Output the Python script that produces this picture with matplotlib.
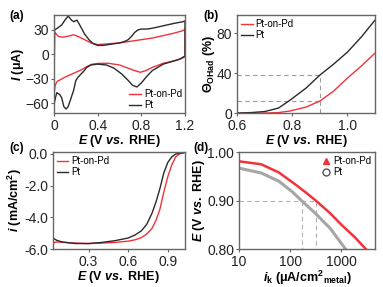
import numpy as np
import matplotlib
matplotlib.use("Agg")
import matplotlib.pyplot as plt
from matplotlib.lines import Line2D
from matplotlib.ticker import FixedLocator, FixedFormatter, NullLocator

plt.rcParams["font.family"] = ["Liberation Sans", "DejaVu Sans"]
plt.rcParams["mathtext.fontset"] = "custom"
plt.rcParams["mathtext.rm"] = "Liberation Sans:bold"
plt.rcParams["mathtext.it"] = "Liberation Sans:bold:italic"
plt.rcParams["mathtext.bf"] = "Liberation Sans:bold"

RED = "#f2323a"
BLACK = "#2a2a2a"
GRAY = "#a6a6a6"
SPINE = "#666666"

# ---------------- (a) cyclic voltammograms ----------------
cv_pt_E = [0, 0.005, 0.03, 0.07, 0.10, 0.13, 0.16, 0.18, 0.21, 0.24, 0.28, 0.32, 0.36, 0.40,
           0.45, 0.50, 0.55, 0.60, 0.65, 0.68, 0.71, 0.74, 0.77, 0.80, 0.85, 0.90, 1.00, 1.10,
           1.18, 1.20,
           1.20, 1.15, 1.10, 1.00, 0.90, 0.85, 0.80, 0.76, 0.72, 0.68, 0.62, 0.55, 0.48, 0.40,
           0.34, 0.30, 0.27, 0.22, 0.20, 0.18, 0.15, 0.13, 0.11, 0.09, 0.07, 0.05, 0.025,
           0.01, 0]
cv_pt_I = [-60, 30, 32, 36, 42, 47, 42, 40, 42, 35, 25, 18, 13, 11,
           11, 12, 13, 14, 16, 18, 22, 27, 30, 31, 31, 32, 35, 38,
           40, 41,
           -2, -6, -8, -12, -20, -27, -35, -40, -38, -32, -24, -17, -13, -12,
           -13, -16, -21, -28, -32, -44, -56, -64, -67, -64, -53, -49, -47,
           -55, -62]

cv_pd_E = [0, 0.005, 0.02, 0.04, 0.08, 0.12, 0.18, 0.22, 0.28, 0.34, 0.40, 0.50, 0.60, 0.70,
           0.80, 0.90, 1.00, 1.10, 1.18, 1.20,
           1.20, 1.17, 1.10, 1.00, 0.90, 0.84, 0.79, 0.74, 0.68, 0.60, 0.50, 0.42, 0.35,
           0.30, 0.25, 0.20, 0.15, 0.10, 0.06, 0.03, 0.01, 0]
cv_pd_I = [-50, 27, 25, 22, 21, 22, 24, 22, 18, 14, 12, 13, 14, 16,
           18, 20, 23, 26, 29, 31,
           -3, -5, -8, -11, -16, -20, -22, -20, -17, -13, -11, -11, -12,
           -15, -19, -22, -25, -28, -31, -33, -38, -50]

# ---------------- (b) OHad coverage ----------------
cov_E = [0.60, 0.65, 0.70, 0.75, 0.79, 0.85, 0.90, 0.95, 1.00, 1.05, 1.10]
cov_pt = [0, 0.5, 1.5, 5, 12.5, 25, 38, 49, 61, 76, 93]
cov_pd = [0, 0, 0, 0.5, 2, 6, 12, 22, 35, 47, 60]

# ---------------- (c) ORR polarization ----------------
lsv_pt_E = [0.03, 0.06, 0.10, 0.20, 0.30, 0.40, 0.50, 0.60, 0.65, 0.70, 0.74, 0.78, 0.81,
            0.84, 0.87, 0.90, 0.93, 0.96, 0.99, 1.02]
lsv_pt_i = [-5.3, -5.45, -5.55, -5.65, -5.65, -5.58, -5.47, -5.3, -5.12, -4.85, -4.45,
            -3.75, -3.05, -2.2, -1.2, -0.55, -0.2, -0.02, 0.03, 0.06]
lsv_pd_E = [0.03, 0.06, 0.10, 0.20, 0.30, 0.40, 0.50, 0.60, 0.65, 0.70, 0.74, 0.78, 0.81,
            0.84, 0.87, 0.90, 0.93, 0.96, 0.99, 1.02]
lsv_pd_i = [-5.6, -5.55, -5.57, -5.62, -5.65, -5.62, -5.58, -5.5, -5.42, -5.28, -5.05,
            -4.7, -4.2, -3.5, -2.4, -1.45, -0.7, -0.2, 0.0, 0.05]

# ---------------- (d) Tafel plot ----------------
tafel_pd_ik = [10, 27, 60, 131, 200, 316, 600, 1000, 1800, 3000]
tafel_pd_E = [0.981, 0.975, 0.958, 0.932, 0.917, 0.900, 0.874, 0.850, 0.825, 0.800]
tafel_pt_ik = [10, 27, 60, 110, 166, 300, 600, 900, 1200]
tafel_pt_E = [0.967, 0.957, 0.940, 0.918, 0.900, 0.875, 0.843, 0.818, 0.800]

legend_names = ["Pt-on-Pd", "Pt"]


def style_axes(ax):
    for s in ax.spines.values():
        s.set_color(SPINE)
        s.set_linewidth(1.0)
    ax.tick_params(direction="out", length=2.5, width=0.8, color=SPINE,
                   labelsize=10, pad=1.0, colors="#222222")
    ax.tick_params(axis="x", pad=1.5)


fig = plt.figure(figsize=(3.83, 2.87), dpi=100)

xl = r"$E$ (V $vs.$ RHE)"
lab_kw = dict(fontsize=9, fontweight="bold", labelpad=0)
leg_kw = dict(fontsize=7, frameon=False, handlelength=1.2, handletextpad=0.3,
              borderpad=0.1, labelspacing=0.1)

# (a)
ax = fig.add_axes([0.141, 0.606, 0.342, 0.341])
ax.plot(cv_pd_E, cv_pd_I, color=RED, lw=1.0, label=legend_names[0])
ax.plot(cv_pt_E, cv_pt_I, color=BLACK, lw=1.0, label=legend_names[1])
ax.set_xlim(0, 1.2)
ax.set_ylim(-72, 48)
ax.set_xticks([0, 0.4, 0.8, 1.2])
ax.set_xticklabels(["0", "0.4", "0.8", "1.2"])
ax.set_yticks([30, 0, -30, -60])
ax.set_xlabel(xl, **lab_kw)
ax.set_ylabel(r"$I$ ($\mathrm{\mu}$A)", **lab_kw)
style_axes(ax)
ax.legend(loc="lower right", borderaxespad=0.2, **leg_kw)
fig.text(0.025, 0.935, "(a)", fontsize=8.5, fontweight="bold")

# (b)
ax = fig.add_axes([0.619, 0.606, 0.360, 0.341])
ax.plot([0.6, 0.9, 0.9], [38, 38, 0], ls=(0, (4, 3)), color="#999999", lw=0.8)
ax.plot([0.6, 0.9], [12, 12], ls=(0, (4, 3)), color="#999999", lw=0.8)
ax.plot(cov_E, cov_pd, color=RED, lw=1.0, label=legend_names[0])
ax.plot(cov_E, cov_pt, color=BLACK, lw=1.0, label=legend_names[1])
ax.set_xlim(0.6, 1.1)
ax.set_ylim(0, 98)
ax.set_xticks([0.6, 0.8, 1.0])
ax.set_yticks([0, 40, 80])
ax.set_xlabel(xl, **lab_kw)
ax.set_ylabel(r"$\mathit{Θ}_{\mathrm{OHad}}$ (%)", **lab_kw)
style_axes(ax)
ax.legend(loc="upper left", borderaxespad=0.3, **leg_kw)
fig.text(0.53, 0.935, "(b)", fontsize=8.5, fontweight="bold")

# (c)
ax = fig.add_axes([0.138, 0.132, 0.345, 0.338])
ax.plot(lsv_pd_E, lsv_pd_i, color=RED, lw=1.0, label=legend_names[0])
ax.plot(lsv_pt_E, lsv_pt_i, color=BLACK, lw=1.0, label=legend_names[1])
ax.set_xlim(0.03, 1.03)
ax.set_ylim(-6.0, 0.1)
ax.set_xticks([0.3, 0.6, 0.9])
ax.set_yticks([0.0, -2.0, -4.0, -6.0])
ax.set_yticklabels(["0.0", "-2.0", "-4.0", "-6.0"])
ax.set_xlabel(xl, **lab_kw)
ax.set_ylabel(r"$i$ (mA/cm$^2$)", **lab_kw)
style_axes(ax)
ax.legend(loc="upper left", borderaxespad=0.3, **leg_kw)
fig.text(0.025, 0.475, "(c)", fontsize=8.5, fontweight="bold")

# (d)
ax = fig.add_axes([0.624, 0.132, 0.355, 0.338])
ax.plot([10, 316, 316], [0.9, 0.9, 0.8], ls=(0, (4, 3)), color="#b0b0b0", lw=0.8)
ax.plot([166, 166], [0.9, 0.8], ls=(0, (4, 3)), color="#b0b0b0", lw=0.8)
ax.plot(tafel_pt_ik, tafel_pt_E, color=GRAY, lw=2.2)
ax.plot(tafel_pd_ik, tafel_pd_E, color=RED, lw=1.8)
ax.set_xscale("log")
ax.set_xlim(10, 4500)
ax.set_ylim(0.80, 1.00)
ax.xaxis.set_major_locator(FixedLocator([10, 100, 1000]))
ax.xaxis.set_major_formatter(FixedFormatter(["10", "100", "1000"]))
ax.xaxis.set_minor_locator(NullLocator())
ax.set_yticks([0.80, 0.90, 1.00])
ax.set_yticklabels(["0.80", "0.90", "1.00"])
ax.set_xlabel(r"$i_{\mathrm{k}}$ ($\mathrm{\mu}$A/cm$^2$$_{\mathrm{metal}}$)", **lab_kw)
ax.set_ylabel(r"$E$ (V $vs.$ RHE)", **lab_kw)
style_axes(ax)
handles = [Line2D([], [], ls="none", marker="^", color=RED, markersize=5),
           Line2D([], [], ls="none", marker="o", mfc="white", mec="#555555", markersize=5)]
ax.legend(handles, legend_names, loc="upper right", fontsize=7, frameon=False,
          handlelength=1.0, handletextpad=0.2, borderpad=0.1, labelspacing=0.1,
          borderaxespad=0.3)
fig.text(0.505, 0.475, "(d)", fontsize=8.5, fontweight="bold")

fig.savefig("out.png", dpi=100)
